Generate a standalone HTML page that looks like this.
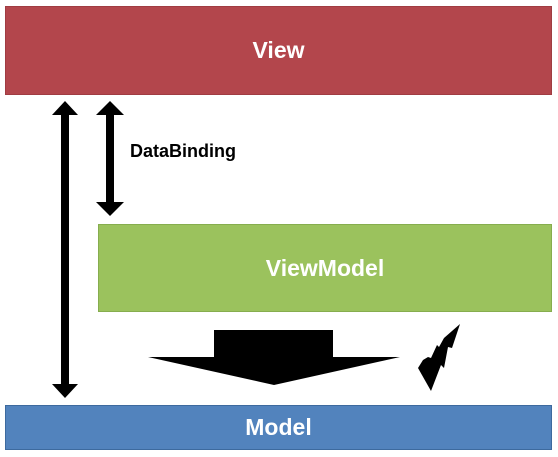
<!DOCTYPE html>
<html><head><style>
body{margin:0;width:558px;height:457px;background:#fff;overflow:hidden;position:relative;font-family:"Liberation Sans",Arial,sans-serif}
.b{position:absolute;color:#fff;font-weight:bold;text-align:center;box-sizing:border-box}
</style></head><body>
<div class="b" style="left:5px;top:6px;width:547px;height:89px;background:#b3464c;border:1px solid #a03c42;font-size:23px;line-height:87px">View</div>
<div class="b" style="left:98px;top:224px;width:454px;height:88px;background:#9bc25d;border:1px solid #86ad4e;font-size:23px;line-height:86px">ViewModel</div>
<div class="b" style="left:5px;top:405px;width:547px;height:45px;background:#5283bd;border:1px solid #3d6a9e;font-size:23px;line-height:43px">Model</div>
<div style="position:absolute;left:130px;top:141px;font-size:18px;font-weight:bold;color:#000">DataBinding</div>
<svg width="558" height="457" style="position:absolute;left:0;top:0">
<polygon points="65,101 78,115 69,115 69,384 78,384 65,398 52,384 61,384 61,115 52,115" fill="#000"/>
<polygon points="110,101 124,115 114,115 114,202 124,202 110,216 96,202 106,202 106,115 96,115" fill="#000"/>
<polygon points="214,330 333,330 333,357 400,357 274,385 148,357 214,357" fill="#000"/>
<polygon points="460,324 452,348 448,347 444,368 441,365 431,391 418,368 423,360 428,357 431,358 437,345 439,347 444,338" fill="#000"/>
</svg>
</body></html>
